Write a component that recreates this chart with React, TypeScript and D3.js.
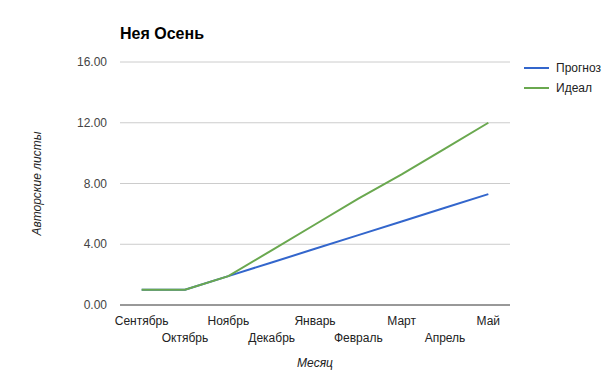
import React from "react";
import * as d3 from "d3";

const months = [
  "Сентябрь",
  "Октябрь",
  "Ноябрь",
  "Декабрь",
  "Январь",
  "Февраль",
  "Март",
  "Апрель",
  "Май",
];

const forecast = [1, 1, 1.9, 2.8, 3.7, 4.6, 5.5, 6.4, 7.3];
const ideal = [1, 1, 1.9, 3.6, 5.3, 7.0, 8.6, 10.3, 12];

const yTicks = [0, 4, 8, 12, 16];

const seriesNames = ["Прогноз", "Идеал"];
const seriesColors = ["#3366cc", "#6aa84f"];

const width = 605;
const height = 375;
const plot = { left: 120, right: 510, top: 62, bottom: 305 };
const font = "Arial, 'Liberation Sans', sans-serif";

export default function App() {
  const x = d3
    .scaleBand<string>()
    .domain(months)
    .range([plot.left, plot.right]);
  const y = d3
    .scaleLinear()
    .domain([0, 16])
    .range([plot.bottom, plot.top]);

  const cx = (m: string) => (x(m) ?? 0) + x.bandwidth() / 2;

  const line = d3
    .line<number>()
    .x((_, i) => cx(months[i]))
    .y((d) => y(d));

  const series = [forecast, ideal];

  return (
    <svg
      width={width}
      height={height}
      style={{ position: "absolute", left: 0, top: 0, fontFamily: font }}
    >
      <rect width={width} height={height} fill="#fff" />
      <text x={120} y={39} fontSize={16} fontWeight="bold" fill="#000">
        Нея Осень
      </text>

      {yTicks.map((t) => (
        <g key={t}>
          <line
            x1={plot.left}
            x2={plot.right}
            y1={y(t)}
            y2={y(t)}
            stroke={t === 0 ? "#333" : "#ccc"}
            strokeWidth={1}
          />
          <text
            x={107}
            y={y(t)}
            dy="0.35em"
            textAnchor="end"
            fontSize={12}
            fill="#444"
          >
            {t.toFixed(2)}
          </text>
        </g>
      ))}

      {months.map((m, i) => (
        <text
          key={m}
          x={cx(m)}
          y={i % 2 === 0 ? 325 : 342}
          textAnchor="middle"
          fontSize={12}
          fill="#222"
        >
          {m}
        </text>
      ))}

      <text
        x={(plot.left + plot.right) / 2}
        y={367}
        textAnchor="middle"
        fontSize={12}
        fontStyle="italic"
        fill="#222"
      >
        Месяц
      </text>
      <text
        transform={`translate(41,${(plot.top + plot.bottom) / 2}) rotate(-90)`}
        textAnchor="middle"
        fontSize={12}
        fontStyle="italic"
        fill="#222"
      >
        Авторские листы
      </text>

      {series.map((s, i) => (
        <path
          key={seriesNames[i]}
          d={line(s) ?? ""}
          fill="none"
          stroke={seriesColors[i]}
          strokeWidth={2}
        />
      ))}

      {seriesNames.map((n, i) => (
        <g key={n} transform={`translate(524,${68 + i * 20})`}>
          <line x1={0} x2={25} y1={0} y2={0} stroke={seriesColors[i]} strokeWidth={2} />
          <text x={32} y={0} dy="0.35em" fontSize={12} fill="#222">
            {n}
          </text>
        </g>
      ))}
    </svg>
  );
}
